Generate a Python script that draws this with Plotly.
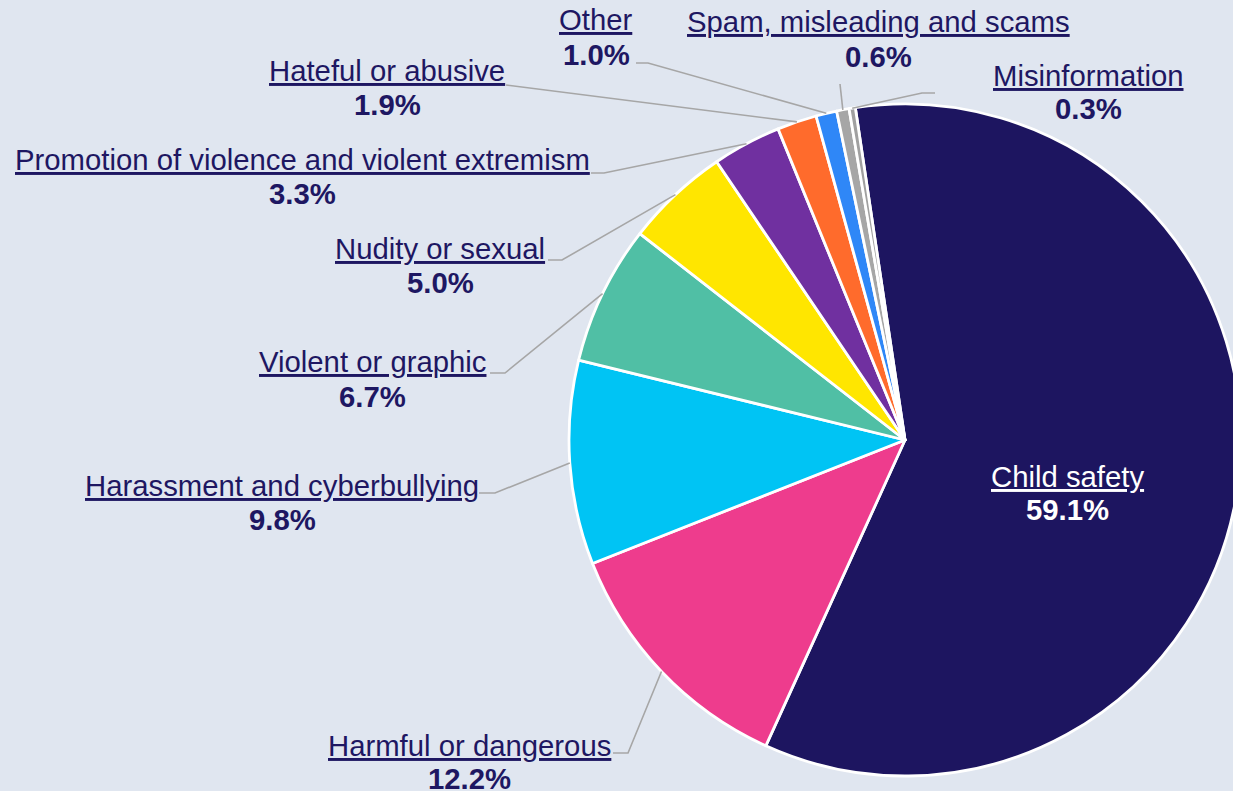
import math
import plotly.graph_objects as go

# ---- data ----
categories = [
    "Child safety",
    "Harmful or dangerous",
    "Harassment and cyberbullying",
    "Violent or graphic",
    "Nudity or sexual",
    "Promotion of violence and violent extremism",
    "Hateful or abusive",
    "Other",
    "Spam, misleading and scams",
    "Misinformation",
]
shares = [59.1, 12.2, 9.8, 6.7, 5.0, 3.3, 1.9, 1.0, 0.6, 0.3]
pct_labels = ["59.1%", "12.2%", "9.8%", "6.7%", "5.0%", "3.3%", "1.9%", "1.0%", "0.6%", "0.3%"]

# ---- style ----
colors = ["#1D1560", "#EE3C8D", "#00C4F4", "#50BFA5", "#FFE600",
          "#7030A0", "#FF6B2C", "#2F87F7", "#A6A6A6", "#A0A0A0"]
W, H = 1245, 791          # figure is slightly wider than the window: pie is cropped at the right
BG = "#E0E6F0"
NAVY = "#1E1762"
LINE = "#A6A6A6"
FONT = "Liberation Sans, Arial, sans-serif"
FS = 29.3
ROT = -8.5
PIE_CX, PIE_CY, PIE_R = 905, 440, 336   # pixels
DOM_X = [(PIE_CX - PIE_R) / W, (PIE_CX + PIE_R) / W]
DOM_Y = [1 - (PIE_CY + PIE_R) / H, 1 - (PIE_CY - PIE_R) / H]

# label placement in pixels: name centre x, name centre y, pct centre y, text colour,
# leader points on the label side (the pie end is computed from the slice angle)
label_pos = {
    "Child safety": (1067, 476, 509, "white", None),
    "Harmful or dangerous": (470, 745, 778, NAVY, [(613, 753), (628, 753)]),
    "Harassment and cyberbullying": (282, 485, 519, NAVY, [(479, 493), (495, 493)]),
    "Violent or graphic": (372, 361, 396, NAVY, [(490, 373), (505, 373)]),
    "Nudity or sexual": (440, 248, 283, NAVY, [(548, 260), (562, 260)]),
    "Promotion of violence and violent extremism": (302, 160, 193, NAVY, [(591, 173), (604, 173)]),
    "Hateful or abusive": (387, 71, 104, NAVY, [(506, 85)]),
    "Other": (596, 20, 55, NAVY, [(636, 63), (648, 63)]),
    "Spam, misleading and scams": (878, 22, 56, NAVY, [(840, 84)]),
    "Misinformation": (1088, 76, 108, NAVY, [(935, 93), (922, 93)]),
}

def px(x):
    return x / W

def py(y):
    return 1 - y / H

cx = (DOM_X[0] + DOM_X[1]) / 2 * W
cy = (1 - (DOM_Y[0] + DOM_Y[1]) / 2) * H
r = min((DOM_X[1] - DOM_X[0]) * W, (DOM_Y[1] - DOM_Y[0]) * H) / 2

fig = go.Figure(go.Pie(
    labels=categories,
    values=shares,
    sort=False,
    direction="clockwise",
    rotation=ROT,
    marker=dict(colors=colors, line=dict(color="white", width=2.8)),
    textinfo="none",
    hoverinfo="label+value",
    showlegend=False,
    domain=dict(x=DOM_X, y=DOM_Y),
))

annotations = []
shapes = []
total = sum(shares)
cum = 0.0
for cat, v, pl in zip(categories, shares, pct_labels):
    mid = ROT + 360.0 * (cum + v / 2) / total
    cum += v
    nx, ny, pyy, col, pts = label_pos[cat]
    annotations.append(dict(x=px(nx), y=py(ny), xref="paper", yref="paper",
                            text=f"<u>{cat}</u>", showarrow=False,
                            xanchor="center", yanchor="middle",
                            font=dict(family=FONT, size=FS, color=col)))
    annotations.append(dict(x=px(nx), y=py(pyy), xref="paper", yref="paper",
                            text=f"<b>{pl}</b>", showarrow=False,
                            xanchor="center", yanchor="middle",
                            font=dict(family=FONT, size=FS, color=col)))
    if pts:
        a = math.radians(mid)
        ex = cx + r * math.sin(a)
        ey = cy - r * math.cos(a)
        allp = pts + [(ex, ey)]
        path = "M " + " L ".join(f"{px(x):.5f},{py(y):.5f}" for x, y in allp)
        shapes.append(dict(type="path", path=path, xref="paper", yref="paper",
                           line=dict(color=LINE, width=1.6)))

fig.update_layout(
    width=W, height=H,
    margin=dict(l=0, r=0, t=0, b=0),
    paper_bgcolor=BG, plot_bgcolor=BG,
    annotations=annotations,
    shapes=shapes,
    font=dict(family=FONT),
)

fig.write_html(
    "out.html",
    config={"displayModeBar": False},
    post_script="document.body.style.margin='0';document.body.style.overflow='hidden';"
                "document.documentElement.style.overflow='hidden';",
)
